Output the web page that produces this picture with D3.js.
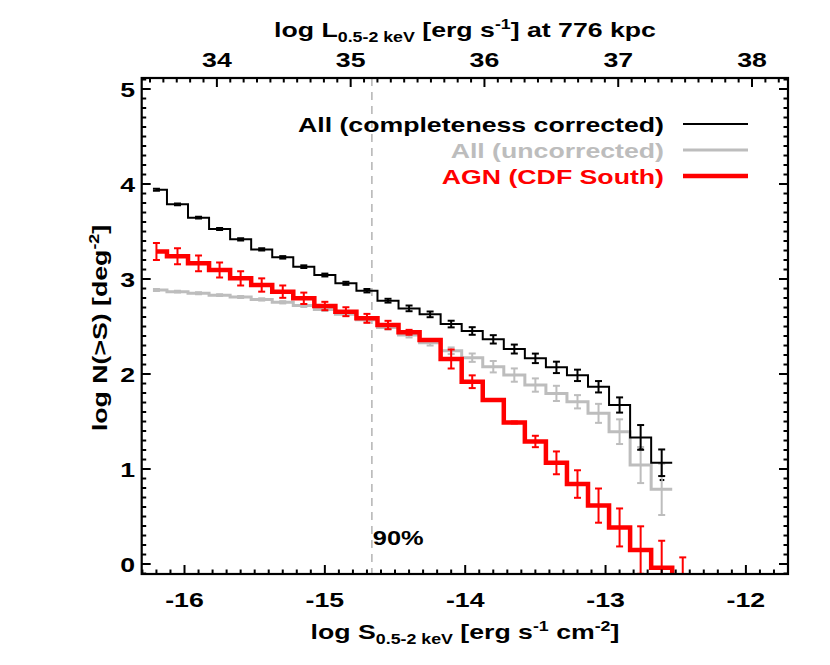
<!DOCTYPE html>
<html>
<head>
<meta charset="utf-8">
<script src="https://cdn.jsdelivr.net/npm/d3@7"></script>
<style>
  html, body { margin: 0; padding: 0; background: #fff; }
  svg { display: block; }
</style>
</head>
<body>
<svg id="chart" width="830" height="665"></svg>
<script>
// ---------------- data ----------------
const logS = [-16.20,-16.05,-15.90,-15.75,-15.60,-15.45,-15.30,-15.15,-15.00,-14.85,-14.70,-14.55,-14.40,-14.25,-14.10,-13.95,-13.80,-13.65,-13.50,-13.35,-13.20,-13.05,-12.90,-12.75,-12.60,-12.45,-12.30];

const allCorrected = [3.94,3.786,3.646,3.526,3.418,3.312,3.228,3.13,3.042,2.955,2.877,2.772,2.691,2.628,2.526,2.453,2.365,2.263,2.165,2.07,1.986,1.866,1.674,1.333,1.066];
const allCorrectedErr = [0.01,0.01,0.01,0.01,0.012,0.012,0.013,0.014,0.015,0.016,0.018,0.02,0.03,0.03,0.035,0.04,0.044,0.047,0.05,0.06,0.06,0.06,0.08,0.13,0.14];

const allUncorrected = [2.884,2.867,2.85,2.83,2.81,2.785,2.755,2.72,2.68,2.63,2.57,2.49,2.41,2.33,2.245,2.172,2.077,1.989,1.884,1.796,1.708,1.586,1.393,1.042,0.786];
const allUncorrectedErr = [0.01,0.01,0.01,0.01,0.01,0.012,0.012,0.014,0.015,0.016,0.018,0.02,0.025,0.03,0.035,0.044,0.06,0.07,0.07,0.08,0.07,0.1,0.13,0.19,0.27];

const agnCDFS = [3.29,3.24,3.165,3.095,3.007,2.937,2.867,2.797,2.716,2.656,2.586,2.516,2.439,2.358,2.158,1.919,1.726,1.49,1.29,1.065,0.842,0.615,0.385,0.147,-0.04,-0.3,-0.5];
const agnCDFSErr = [0.09,0.084,0.082,0.079,0.075,0.07,0.065,0.06,0.044,0.047,0.047,0.044,0.026,0.01,0.1,0.067,0.01,0.01,0.06,0.12,0.145,0.18,0.2,0.25,0.285,0.37,0.38];

const extraDots = [[-12.75,1.207],[-12.60,0.884]];

const completeness90 = -14.665;
const xTickLabels = [-16,-15,-14,-13,-12];
const xTopTickLabels = [34,35,36,37,38];
const yTickLabels = [0,1,2,3,4,5];
const legendLabels = ["All (completeness corrected)","All (uncorrected)","AGN (CDF South)"];

// ---------------- layout ----------------
const svg = d3.select("#chart");
const L = 141.7, R = 788, T = 78, B = 574;
const x = d3.scaleLinear().domain([-16.305, -11.70]).range([L, R]);
const xTop = d3.scaleLinear().domain([33.438, 38.269]).range([L, R]);
const y = d3.scaleLinear().domain([-0.105, 5.116]).range([B, T]);

const FONT = "'Liberation Sans', Arial, Helvetica, sans-serif";
const SX = 1.27;
const GRAY = "#bdbdbd", RED = "#ff0000";

function label(parent, px, py, anchor, parts, size, color, rotate) {
  const g = parent.append("g")
    .attr("transform", `translate(${px},${py})${rotate ? ` rotate(${rotate})` : ""} scale(${SX},1)`);
  const t = g.append("text").attr("text-anchor", anchor)
    .attr("font-family", FONT).attr("font-weight", "bold")
    .attr("font-size", size).attr("fill", color || "#000");
  let cur = 0;
  parts.forEach(p => {
    const s = p.shift || 0;
    t.append("tspan").attr("dy", s - cur).attr("font-size", p.size || size).text(p.t);
    cur = s;
  });
  return g;
}

svg.append("defs").append("clipPath").attr("id", "clip")
  .append("rect").attr("x", L).attr("y", T).attr("width", R - L).attr("height", B - T + 1);

// dashed completeness line
svg.append("line")
  .attr("x1", x(completeness90)).attr("x2", x(completeness90))
  .attr("y1", T).attr("y2", B)
  .attr("stroke", "#b8b8b8").attr("stroke-width", 1.6).attr("stroke-dasharray", "8,6");

label(svg, x(completeness90) + 1, 545, "start", [{t: "90%"}], 20);

const plot = svg.append("g").attr("clip-path", "url(#clip)");

function stepPath(vals) {
  const half = (logS[1] - logS[0]) / 2;
  let d = `M${x(logS[0])},${y(vals[0])}`;
  for (let i = 0; i < vals.length; i++) {
    d += `H${x(logS[i] + half)}`;
    if (i + 1 < vals.length) d += `V${y(vals[i + 1])}`;
  }
  return d;
}

function drawSeries(vals, errs, color, lw, ew) {
  plot.append("path").attr("d", stepPath(vals))
    .attr("fill", "none").attr("stroke", color).attr("stroke-width", lw)
    .attr("stroke-linejoin", "miter");
  const eb = plot.append("g").attr("stroke", color).attr("stroke-width", ew);
  vals.forEach((v, i) => {
    const cx = x(logS[i]);
    const y1 = y(v + errs[i]), y2 = y(v - errs[i]);
    eb.append("line").attr("x1", cx).attr("x2", cx).attr("y1", y1).attr("y2", y2);
    eb.append("line").attr("x1", cx - 3.5).attr("x2", cx + 3.5).attr("y1", y1).attr("y2", y1);
    eb.append("line").attr("x1", cx - 3.5).attr("x2", cx + 3.5).attr("y1", y2).attr("y2", y2);
  });
}

drawSeries(allUncorrected, allUncorrectedErr, GRAY, 3, 2);
drawSeries(agnCDFS, agnCDFSErr, RED, 4.5, 2);
drawSeries(allCorrected, allCorrectedErr, "#000", 2, 2);

plot.selectAll("rect.dot").data(extraDots).enter().append("g").each(function(d) {
  const g = d3.select(this);
  [-2, 1].forEach(o => g.append("rect")
    .attr("x", x(d[0]) + o).attr("y", y(d[1]) - 1).attr("width", 1.6).attr("height", 2).attr("fill", "#000"));
});

// ---------------- axes ----------------
const axG = svg.append("g").attr("stroke", "#000");
const MAJ = 9, MIN = 4.5;
d3.range(-163, -116).forEach(k => {
  const v = k / 10;
  const isMaj = Math.abs(v - Math.round(v)) < 1e-6;
  if (x(v) < L || x(v) > R) return;
  axG.append("line").attr("x1", x(v)).attr("x2", x(v)).attr("y1", B).attr("y2", B - (isMaj ? MAJ : MIN)).attr("stroke-width", 2);
});
d3.range(335, 383).forEach(k => {
  const v = k / 10;
  const isMaj = Math.abs(v - Math.round(v)) < 1e-6;
  if (xTop(v) < L || xTop(v) > R) return;
  axG.append("line").attr("x1", xTop(v)).attr("x2", xTop(v)).attr("y1", T).attr("y2", T + (isMaj ? MAJ : MIN)).attr("stroke-width", 2);
});
d3.range(-1, 52).forEach(k => {
  const v = k / 10;
  const isMaj = Math.abs(v - Math.round(v)) < 1e-6;
  if (y(v) > B || y(v) < T) return;
  axG.append("line").attr("x1", L).attr("x2", L + (isMaj ? MAJ : MIN)).attr("y1", y(v)).attr("y2", y(v)).attr("stroke-width", 2);
  axG.append("line").attr("x1", R).attr("x2", R - (isMaj ? MAJ : MIN)).attr("y1", y(v)).attr("y2", y(v)).attr("stroke-width", 2);
});
svg.append("rect").attr("x", L).attr("y", T).attr("width", R - L).attr("height", B - T)
  .attr("fill", "none").attr("stroke", "#000").attr("stroke-width", 2.2);

// tick labels
xTickLabels.forEach(v => label(svg, x(v), 607, "middle", [{t: String(v)}], 21));
xTopTickLabels.forEach(v => label(svg, xTop(v), 67, "middle", [{t: String(v)}], 21));
yTickLabels.forEach(v => label(svg, 135, y(v) + 7.5, "end", [{t: String(v)}], 21));

// axis titles
label(svg, 465, 639, "middle", [
  {t: "log S"}, {t: "0.5-2 keV", size: 14, shift: 5}, {t: " [erg s", shift: 0},
  {t: "-1", size: 14, shift: -8}, {t: " cm", shift: 0}, {t: "-2", size: 14, shift: -8}, {t: "]", shift: 0}
], 21);
label(svg, 465, 37, "middle", [
  {t: "log L"}, {t: "0.5-2 keV", size: 14, shift: 5}, {t: " [erg s", shift: 0},
  {t: "-1", size: 14, shift: -8}, {t: "] at 776 kpc", shift: 0}
], 21);
label(svg, 107, 328, "middle", [
  {t: "log N(>S) [deg"}, {t: "-2", size: 14, shift: -8}, {t: "]", shift: 0}
], 21, "#000", -90);

// legend
const legendColors = ["#000", GRAY, RED];
const legendWidths = [2, 3, 4.5];
legendLabels.forEach((t, i) => {
  const ly = 124 + i * 26;
  label(svg, 664, ly + 7.5, "end", [{t}], 21, legendColors[i]);
  svg.append("line").attr("x1", 683).attr("x2", 748).attr("y1", ly).attr("y2", ly)
    .attr("stroke", legendColors[i]).attr("stroke-width", legendWidths[i]);
});
</script>
</body>
</html>
